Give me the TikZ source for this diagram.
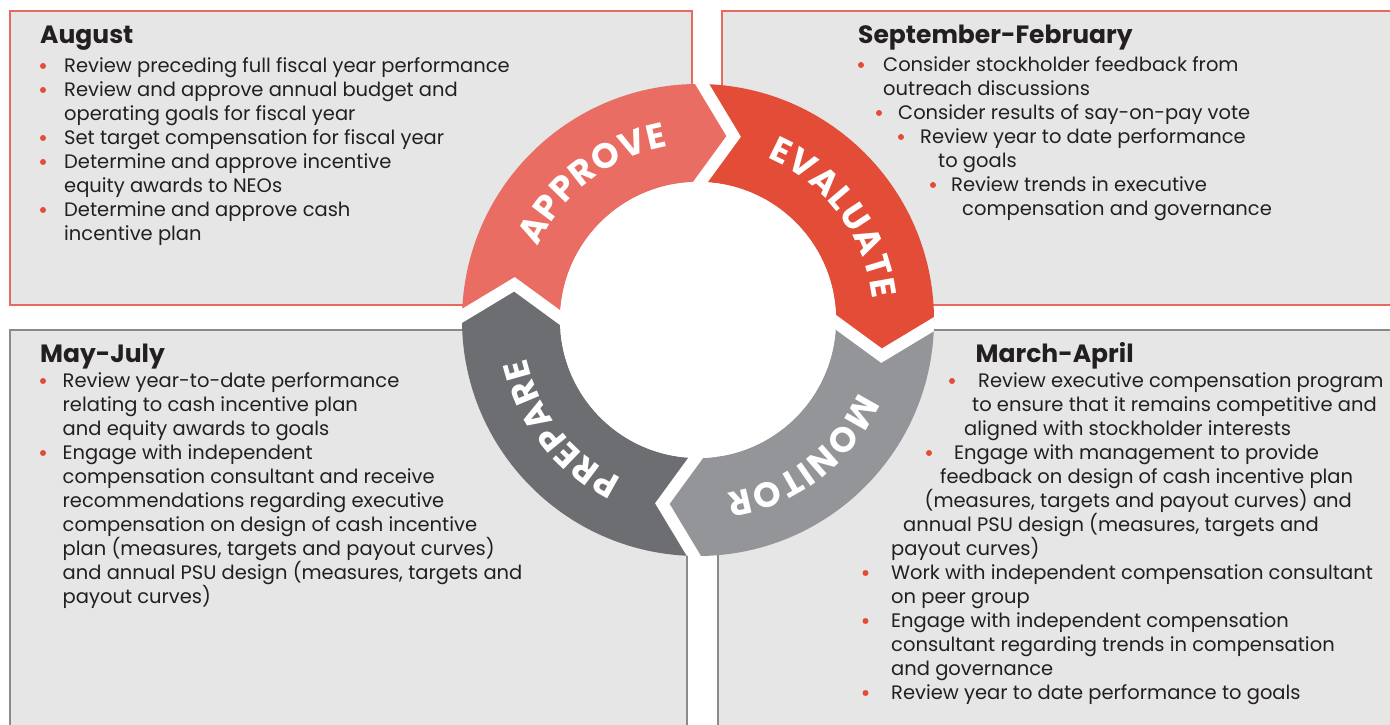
\documentclass[tikz,border=0pt]{standalone}
\usepackage{fontspec}
\setmainfont{Poppins}
\newfontfamily\ringfont{Poppins}
\usetikzlibrary{calc}
\definecolor{boxfill}{HTML}{E6E6E6}
\definecolor{coral}{HTML}{E8695F}
\definecolor{greyline}{HTML}{8A8A8A}
\definecolor{approvec}{HTML}{E96D63}
\definecolor{evaluatec}{HTML}{E34D37}
\definecolor{monitorc}{HTML}{939598}
\definecolor{preparec}{HTML}{6D6E71}
\definecolor{txt}{HTML}{231F20}
\definecolor{bulletc}{HTML}{E24C38}
\newcommand\labfont{\ringfont\bfseries\fontsize{35}{35}\selectfont}
\newlength\lw
\newcommand\defw[1]{\settowidth\lw{\labfont #1}\expandafter\xdef\csname rw#1\endcsname{\the\lw}}
\defw{A}\defw{P}\defw{R}\defw{O}\defw{V}\defw{E}\defw{L}\defw{U}\defw{T}\defw{M}\defw{N}\defw{I}
% #1 centre angle, #2 baseline radius, #3 letter spacing, #4 letters, #5 name prefix
\newcommand\ringword[5]{%
  \gdef\rwtot{0}%
  \foreach \ch in {#4}{\edef\cw{\csname rw\ch\endcsname}\pgfmathparse{\rwtot+\cw+#3}\xdef\rwtot{\pgfmathresult}}%
  \pgfmathparse{\rwtot-#3}\xdef\rwtot{\pgfmathresult}%
  \pgfmathparse{#1+(\rwtot/2)/#2*180/pi}\xdef\rwang{\pgfmathresult}%
  \foreach \ch [count=\k] in {#4}{%
    \edef\cw{\csname rw\ch\endcsname}%
    \pgfmathparse{\rwang-(\cw/2)/#2*180/pi}\let\ang\pgfmathresult
    \node[ringchar, rotate=\ang-90] (#5\k) at ($(C)+(\ang:#2)$) {\ch};
    \pgfmathparse{\rwang-(\cw+#3)/#2*180/pi}\xdef\rwang{\pgfmathresult}%
  }%
}
\tikzset{
  body/.style={anchor=base west, inner sep=0pt, text=txt, font=\fontsize{19.5}{24}\selectfont},
  head/.style={anchor=base west, inner sep=0pt, text=txt, font=\fontsize{25}{28}\selectfont\bfseries},
  bul/.style={circle, fill=bulletc, minimum size=6pt, inner sep=0pt},
  panel/.style={fill=boxfill, line width=2.5pt},
  gapline/.style={white, line width=12pt, line join=miter},
  ringchar/.style={anchor=base, inner sep=0pt, text=white, font=\labfont}
}
\begin{document}
\begin{tikzpicture}[x=1pt,y=1pt]
\useasboundingbox (0,0) rectangle (1390,725);
\clip (0,0) rectangle (1390,725);
% panels
\draw[panel, draw=coral] (10,714) rectangle (692,420);
\draw[panel, draw=coral] (722,714) rectangle (1400,420);
\draw[panel, draw=greyline] (10,395) rectangle (687,-10);
\draw[panel, draw=greyline] (718,395) rectangle (1400,-10);
% ring
\coordinate (C) at (698,405);
\def\Ro{236}\def\Ri{138}\def\Rm{187}\def\dl{10}
\foreach \ts/\col in {179/approvec, 89/evaluatec, -1/monitorc, -91/preparec}{
  \pgfmathsetmacro\te{\ts-90}
  \pgfmathsetmacro\tt{\te-\dl}
  \pgfmathsetmacro\tn{\ts-\dl}
  \fill[\col] ($(C)+(\ts:\Ro)$) arc[start angle=\ts, end angle=\te, radius=\Ro]
     -- ($(C)+(\tt:\Rm)$) -- ($(C)+(\te:\Ri)$)
     arc[start angle=\te, end angle=\ts, radius=\Ri]
     -- ($(C)+(\tn:\Rm)$) -- cycle;
}
\begin{scope}
\clip (C) circle (\Ro);
\foreach \tb in {179, 89, -1, -91}{
  \pgfmathsetmacro\tt{\tb-\dl}
  \coordinate (tip) at ($(C)+(\tt:\Rm)$);
  \coordinate (po) at ($(C)+(\tb:\Ro)$);
  \coordinate (pi) at ($(C)+(\tb:\Ri)$);
  \draw[gapline] ($(tip)!1.6!(po)$) -- (tip) -- ($(tip)!1.6!(pi)$);
}
\end{scope}
\fill[white] (C) circle (\Ri);
% ring labels
\ringword{127.7}{176}{1}{A,P,P,R,O,V,E}{ap}
\ringword{36.9}{176}{1}{E,V,A,L,U,A,T,E}{ev}
\ringword{-52.5}{176}{1}{M,O,N,I,T,O,R}{mo}
\ringword{-141.6}{176}{1}{P,R,E,P,A,R,E}{pr}
% August
\node[head] (aug) at (40,681.5) {August};
\node[bul] (ab1) at (43,659) {};
\node[body] (a1) at (64,652) {Review preceding full fiscal year performance};
\node[bul] (ab2) at (43,635) {};
\node[body] (a2) at (64,628) {Review and approve annual budget and};
\node[body] (a3) at (64,604) {operating goals for fiscal year};
\node[bul] (ab3) at (43,587) {};
\node[body] (a4) at (64,580) {Set target compensation for fiscal year};
\node[bul] (ab4) at (43,563) {};
\node[body] (a5) at (64,556) {Determine and approve incentive};
\node[body] (a6) at (64,532) {equity awards to NEOs};
\node[bul] (ab5) at (43,515) {};
\node[body] (a7) at (64,508) {Determine and approve cash};
\node[body] (a8) at (64,484) {incentive plan};
% September-February
\node[head] (sep) at (858,681) {September-February};
\node[bul] (sb1) at (861,660) {};
\node[body] (s1) at (883,653) {Consider stockholder feedback from};
\node[body] (s2) at (883,629) {outreach discussions};
\node[bul] (sb2) at (879,612) {};
\node[body] (s3) at (898,605) {Consider results of say-on-pay vote};
\node[bul] (sb3) at (901,588) {};
\node[body] (s4) at (920,581) {Review year to date performance};
\node[body] (s5) at (938,557) {to goals};
\node[bul] (sb4) at (933,540) {};
\node[body] (s6) at (951,533) {Review trends in executive};
\node[body] (s7) at (962,509) {compensation and governance};
% May-July
\node[head] (may) at (40,362) {May-July};
\node[bul] (mb1) at (43,344) {};
\node[body] (m1) at (62.5,337) {Review year-to-date performance};
\node[body] (m2) at (62.5,313) {relating to cash incentive plan};
\node[body] (m3) at (62.5,289) {and equity awards to goals};
\node[bul] (mb2) at (43,272) {};
\node[body] (m4) at (62.5,265) {Engage with independent};
\node[body] (m5) at (62.5,241) {compensation consultant and receive};
\node[body] (m6) at (62.5,217) {recommendations regarding executive};
\node[body] (m7) at (62.5,193) {compensation on design of cash incentive};
\node[body] (m8) at (62.5,169) {plan (measures, targets and payout curves)};
\node[body] (m9) at (62.5,145) {and annual PSU design (measures, targets and};
\node[body] (m10) at (62.5,121) {payout curves)};
% March-April
\node[head] (mar) at (975.5,362) {March-April};
\node[bul] (rb1) at (952,344) {};
\node[body] (r1) at (978,337) {Review executive compensation program};
\node[body] (r2) at (972,313) {to ensure that it remains competitive and};
\node[body] (r3) at (964,289) {aligned with stockholder interests};
\node[bul] (rb2) at (929,272) {};
\node[body] (r4) at (954,265) {Engage with management to provide};
\node[body] (r5) at (940,241) {feedback on design of cash incentive plan};
\node[body] (r6) at (924.5,217) {(measures, targets and payout curves) and};
\node[body] (r7) at (903,193) {annual PSU design (measures, targets and};
\node[body] (r8) at (891,169) {payout curves)};
\node[bul] (rb3) at (865.5,152) {};
\node[body] (r9) at (891,145) {Work with independent compensation consultant};
\node[body] (r10) at (891,121) {on peer group};
\node[bul] (rb4) at (865.5,104) {};
\node[body] (r11) at (891,97) {Engage with independent compensation};
\node[body] (r12) at (891,73) {consultant regarding trends in compensation};
\node[body] (r13) at (891,49) {and governance};
\node[bul] (rb5) at (865.5,32) {};
\node[body] (r14) at (891,25) {Review year to date performance to goals};
\end{tikzpicture}
\end{document}
